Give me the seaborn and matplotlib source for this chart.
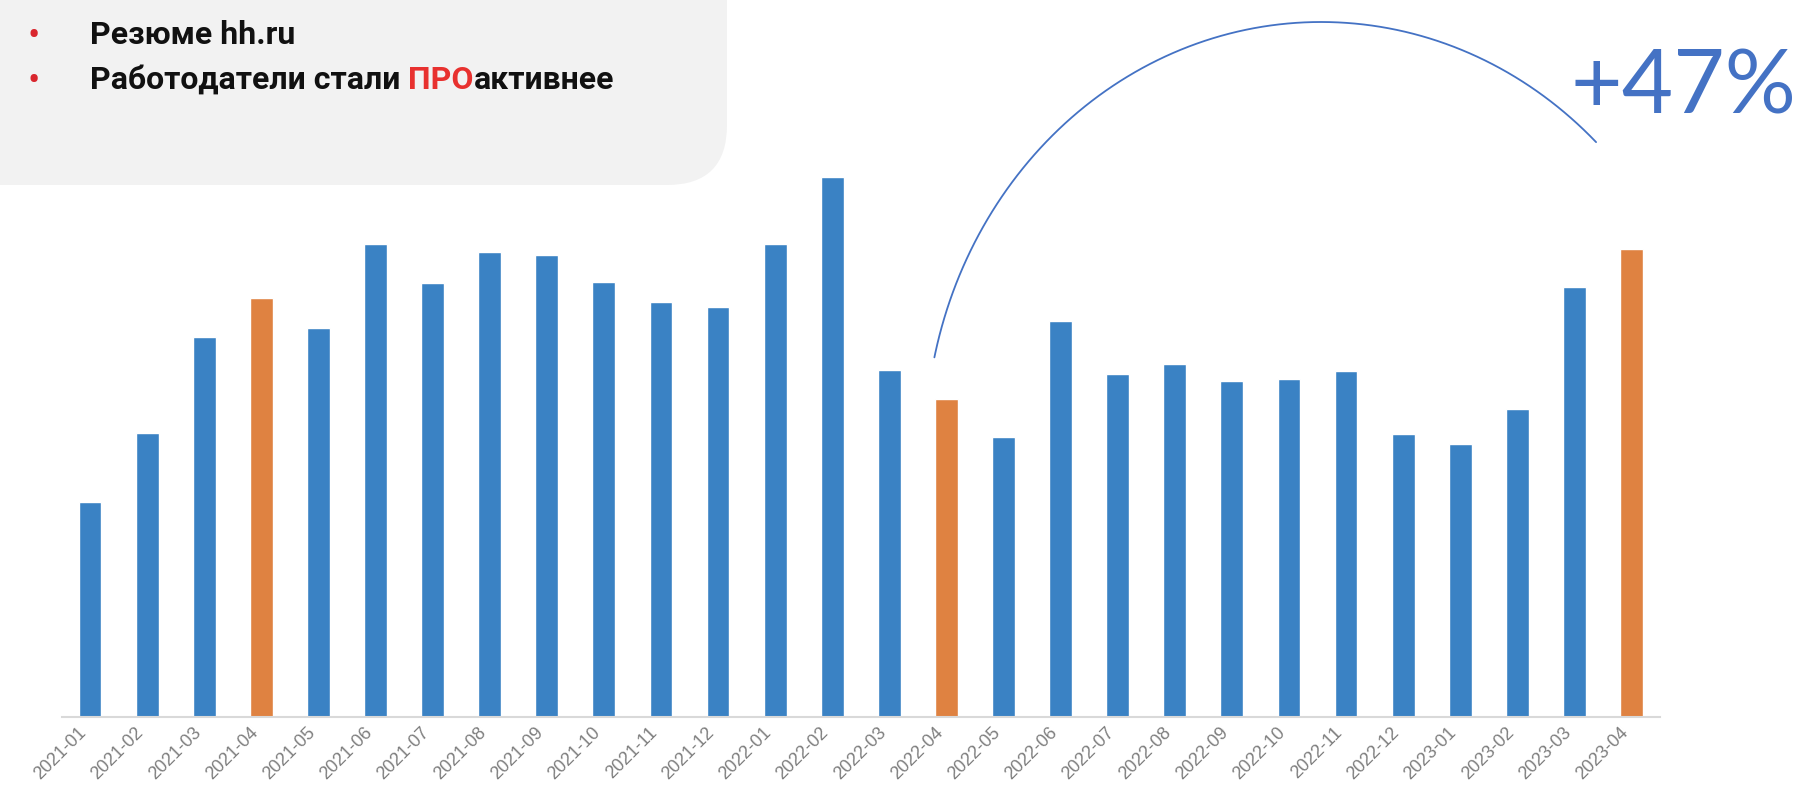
import numpy as np
import pandas as pd
import seaborn as sns
import matplotlib.pyplot as plt
from matplotlib.patches import FancyBboxPatch

# данные: резюме hh.ru по месяцам
months = ['2021-01', '2021-02', '2021-03', '2021-04', '2021-05', '2021-06', '2021-07',
          '2021-08', '2021-09', '2021-10', '2021-11', '2021-12', '2022-01', '2022-02',
          '2022-03', '2022-04', '2022-05', '2022-06', '2022-07', '2022-08', '2022-09',
          '2022-10', '2022-11', '2022-12', '2023-01', '2023-02', '2023-03', '2023-04']
values = [215, 284, 380, 419, 389, 473, 434, 465, 462, 435, 415, 410, 473, 540,
          347, 318, 280, 396, 343, 353, 336, 338, 346, 283, 273, 308, 430, 468]
highlight = ['2021-04', '2022-04', '2023-04']
growth_label = '+47%'

blue = '#3a82c4'
orange = '#df8241'

df = pd.DataFrame({'month': months, 'value': values})
palette = {m: (orange if m in highlight else blue) for m in months}

sns.set_style('white')
plt.rcParams['font.family'] = ['Roboto', 'DejaVu Sans']

W, H = 1797, 787
fig = plt.figure(figsize=(W / 100, H / 100), dpi=100)

ax = fig.add_axes([61.5 / W, 70 / H, 1598.5 / W, 617 / H])
sns.barplot(data=df, x='month', y='value', hue='month', palette=palette,
            width=0.4, legend=False, ax=ax, saturation=1)
ax.set_xlim(-0.5, len(months) - 0.5)
ax.set_ylim(0, 617)
ax.set_xlabel('')
ax.set_ylabel('')
ax.set_yticks([])
for s in ['top', 'right', 'left']:
    ax.spines[s].set_visible(False)
ax.spines['bottom'].set_color('#d9d9d9')
ax.spines['bottom'].set_linewidth(1.5)
ax.tick_params(axis='x', length=0, pad=5)
plt.setp(ax.get_xticklabels(), rotation=45, ha='right', fontsize=13,
         color='#7f7f7f', family='Liberation Sans')

# слой поверх всего в пиксельных координатах
ov = fig.add_axes([0, 0, 1, 1], facecolor='none')
ov.set_xlim(0, W)
ov.set_ylim(H, 0)
ov.axis('off')

box = FancyBboxPatch((-200, -200), 927, 385, boxstyle='round,pad=0,rounding_size=60',
                     facecolor='#f2f2f2', edgecolor='none', zorder=0)
ov.add_patch(box)

fs = 23
hdr = dict(fontsize=fs, fontweight='bold', color='#111111', va='center')
ov.text(28, 37, '•', color='#d9262e', fontsize=26, va='center')
ov.text(28, 82, '•', color='#d9262e', fontsize=26, va='center')
ov.text(90, 35, 'Резюме hh.ru', **hdr)
t1 = ov.text(90, 80, 'Работодатели стали ', **hdr)
t2 = ov.annotate('ПРО', xy=(1, 0), xycoords=t1, va='bottom', ha='left',
                 fontsize=fs, fontweight='bold', color='#e8312f')
ov.annotate('активнее', xy=(1, 0), xycoords=t2, va='bottom', ha='left',
            fontsize=fs, fontweight='bold', color='#111111')

# дуга от 2022-04 к 2023-04
t = np.linspace(np.radians(46), np.radians(167.5), 200)
ov.plot(1321 + 396 * np.cos(t), 450 - 428 * np.sin(t), color='#4472c4', lw=1.3)

ov.text(1683, 88, growth_label, color='#4472c4', fontsize=64, ha='center', va='center',
        family=['Lato', 'DejaVu Sans'])

plt.savefig('out.png', dpi=100)
